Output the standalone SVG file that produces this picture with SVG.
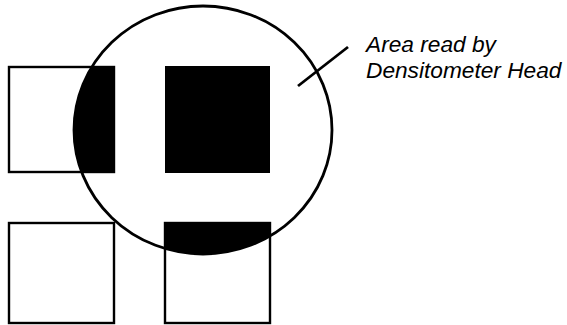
<svg xmlns="http://www.w3.org/2000/svg" width="567" height="325" viewBox="0 0 567 325">
<style>
.sq{fill:none;stroke:#000;stroke-width:2.4}
.blk{fill:#000}
.ln{fill:none;stroke:#000;stroke-width:2.8}
.lbl{font-family:"Liberation Sans",Arial,sans-serif;font-style:italic;font-size:22.7px;fill:#000}
</style>
<defs>
<clipPath id="head"><ellipse cx="203" cy="130" rx="129" ry="124"/></clipPath>
</defs>
<rect width="567" height="325" fill="#fff"/>
<g id="square-top-left">
<rect class="sq" x="9" y="67" width="105" height="105"/>
<rect class="blk" x="8" y="66" width="107" height="107" clip-path="url(#head)"/>
</g>
<g id="square-top-right">
<rect class="blk" x="165" y="66" width="105" height="107"/>
</g>
<g id="square-bottom-left">
<rect class="sq" x="9" y="223" width="105" height="100"/>
</g>
<g id="square-bottom-right">
<rect class="sq" x="165" y="223" width="105" height="100"/>
<rect class="blk" x="164" y="222" width="107" height="103" clip-path="url(#head)"/>
</g>
<g id="densitometer-head">
<ellipse class="ln" cx="203" cy="130" rx="129" ry="124"/>
</g>
<g id="connectors">
<line class="ln" x1="298" y1="86" x2="348" y2="47"/>
</g>
<g id="label">
<text class="lbl" x="366" y="52">Area read by</text>
<text class="lbl" x="366" y="78">Densitometer Head</text>
</g>
</svg>
